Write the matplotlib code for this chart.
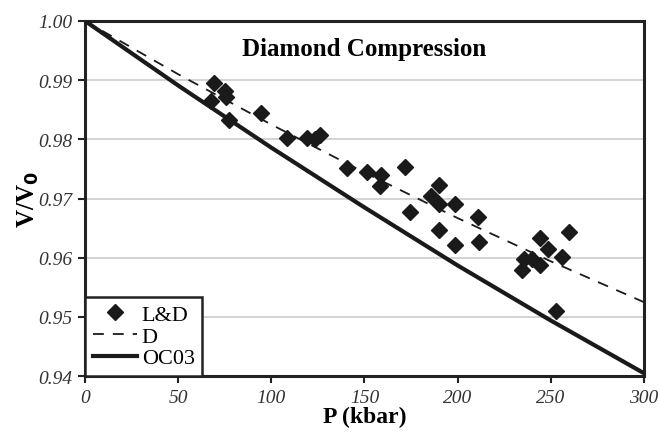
# Diamond compression: V/V0 against pressure
import numpy as np
import matplotlib.pyplot as plt

# L&D measurements
p_ld = [69.2, 75.1, 75.6, 67.6, 77.4, 94.4, 108.2, 119.3, 123.4, 126.1,
        140.7, 151.6, 158.8, 158.6, 171.7, 174.4, 189.9, 185.9, 189.9, 198.5,
        189.9, 198.5, 211.0, 211.4, 244.1, 259.8, 248.6, 256.3, 235.7, 240.2,
        244.1, 234.8, 252.7]
v_ld = [0.9896, 0.9882, 0.9872, 0.9864, 0.9833, 0.9844, 0.9802, 0.9802, 0.9801, 0.9807,
        0.9752, 0.9744, 0.9740, 0.9722, 0.9753, 0.9678, 0.9723, 0.9705, 0.9691, 0.9691,
        0.9647, 0.9621, 0.9669, 0.9627, 0.9633, 0.9643, 0.9615, 0.9602, 0.9598, 0.9598,
        0.9588, 0.9580, 0.9510]

# curves
p_curve = [0, 50, 100, 150, 200, 250, 300]
v_d = [1.0, 0.9910, 0.9825, 0.9744, 0.9667, 0.9594, 0.9525]
v_oc03 = [1.0, 0.9891, 0.9786, 0.9685, 0.9587, 0.9494, 0.9405]

xticks = [0, 50, 100, 150, 200, 250, 300]
yticks = [0.94, 0.95, 0.96, 0.97, 0.98, 0.99, 1.00]

plt.rcParams['font.family'] = ['Liberation Serif', 'DejaVu Serif']

fig = plt.figure(figsize=(6.59, 4.39), dpi=100)
ax = fig.add_axes([0.129, 0.141, 0.848, 0.809])

ax.plot(p_ld, v_ld, 'D', color='#1a1a1a', markersize=8, label='L&D', zorder=4)
ax.plot(p_curve, v_d, color='#1a1a1a', linestyle=(0, (6, 5)), linewidth=1.3, label='D', zorder=3)
ax.plot(p_curve, v_oc03, color='#1a1a1a', linewidth=3, label='OC03', zorder=3)

ax.set_xlim(0, 300)
ax.set_ylim(0.94, 1.00)
ax.set_xticks(xticks)
ax.set_yticks(yticks)
ax.set_xticklabels([str(t) for t in xticks], fontstyle='italic', fontsize=14, color='#333333')
ax.set_yticklabels(['%.2f' % t for t in yticks], fontstyle='italic', fontsize=14, color='#333333')
ax.tick_params(direction='out', length=5, width=1.5, color='#222222', pad=4)
ax.yaxis.grid(True, color='#cccccc', linewidth=1.2)
ax.set_axisbelow(True)
for s in ax.spines.values():
    s.set_linewidth(2.2)
    s.set_color('#222222')

ax.set_xlabel('P (kbar)', fontsize=17, fontweight='bold', labelpad=0)
ax.set_ylabel('V/V$_\\mathbf{0}$', fontsize=18, fontweight='bold', labelpad=-2)

ax.text(150, 0.9954, 'Diamond Compression', fontsize=18, fontweight='bold',
        ha='center', va='center', zorder=5)

leg = ax.legend(loc='lower left', bbox_to_anchor=(0, 0), frameon=True, fancybox=False,
                fontsize=16, handlelength=2.0, handletextpad=0.2, borderpad=0.35,
                labelspacing=0.05, borderaxespad=0)
leg.get_frame().set_edgecolor('#222222')
leg.get_frame().set_linewidth(1.8)
leg.get_frame().set_facecolor('white')
leg.get_frame().set_alpha(1)

fig.savefig('out.png', dpi=100)
